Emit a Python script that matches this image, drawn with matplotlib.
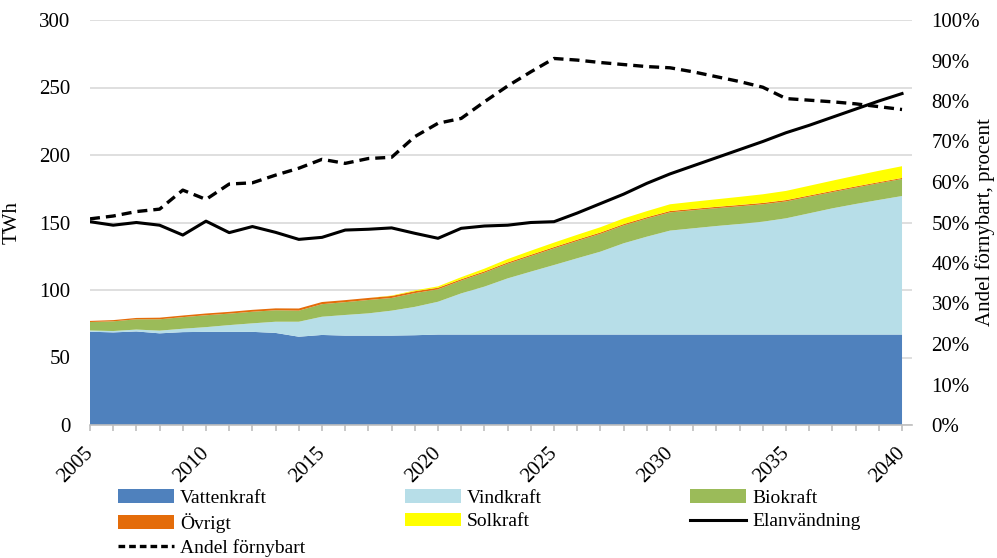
import numpy as np
import matplotlib.pyplot as plt
from matplotlib.patches import Patch
from matplotlib.lines import Line2D
from matplotlib.transforms import ScaledTranslation

plt.rcParams['font.family'] = ['Liberation Serif', 'DejaVu Serif']
plt.rcParams['font.size'] = 15

years = list(range(2005, 2041))

vattenkraft = [69.1, 68.6, 69.3, 67.9, 68.8, 69.0, 69.0, 69.0, 68.2, 65.4, 66.7, 66.2,
               66.2, 66.2, 66.5] + [67.0] * 21
vindkraft = [0.9, 1.0, 1.4, 2.0, 2.5, 3.5, 5.0, 6.3, 8.3, 11.1, 13.5, 15.3, 16.5, 18.5,
             21.0, 24.3, 30.5, 35.5, 41.6, 46.6, 51.5, 56.5, 61.4, 67.6, 72.5, 77.0,
             78.7, 80.4, 81.9, 83.6, 86.1, 89.8, 93.5, 96.7, 99.7, 102.6]
biokraft = [6.3, 7.2, 7.6, 8.4, 8.6, 8.8, 8.5, 8.6, 8.5, 8.2, 9.3, 9.5, 9.9, 9.4, 10.2,
            9.2, 9.5, 10.3, 10.8, 11.5, 12.3, 12.8, 13.2, 13.2, 13.4, 13.5, 13.4, 13.2,
            13.1, 12.9, 12.5, 12.3, 12.0, 12.1, 12.4, 12.6]
ovrigt = [0.8, 0.9, 1.0, 1.2, 1.2, 1.3, 1.3, 1.4, 1.4, 1.6, 1.6, 1.5, 1.5, 1.5, 1.4, 1.2,
          1.0, 1.0, 1.0, 1.0, 1.0, 1.0, 1.0, 1.0, 1.0, 1.0, 1.0, 1.0, 1.0, 1.0, 1.0, 0.9,
          0.9, 0.9, 0.8, 0.8]
solkraft = [0, 0, 0, 0, 0, 0, 0, 0, 0, 0, 0, 0, 0, 0.3, 0.6, 1.0, 1.5, 2.0, 2.5, 3.0,
            3.3, 3.6, 3.9, 4.2, 4.5, 5.0, 5.3, 5.6, 6.0, 6.4, 6.8, 7.2, 7.6, 8.0, 8.4, 8.7]
elanvandning = [150.6, 148.0, 150.0, 148.0, 140.7, 151.0, 142.5, 147.0, 142.7, 137.5,
                139.0, 144.4, 145.0, 146.0, 142.0, 138.3, 145.7, 147.4, 148.0, 150.0,
                150.6, 157.0, 164.0, 171.0, 179.0, 186.0, 192.0, 198.0, 204.0, 210.0,
                216.5, 222.0, 228.0, 234.0, 240.0, 245.5]
andel = [50.9, 51.6, 52.7, 53.3, 58.0, 55.7, 59.5, 59.8, 61.7, 63.4, 65.6, 64.6, 65.8,
         66.1, 71.2, 74.5, 75.7, 79.8, 83.7, 87.2, 90.5, 90.1, 89.5, 89.0, 88.5, 88.2,
         87.2, 86.0, 84.8, 83.4, 80.6, 80.2, 79.8, 79.3, 78.6, 77.9]

names = ['Vattenkraft', 'Vindkraft', 'Biokraft', 'Övrigt', 'Solkraft']
colors = ['#4F81BD', '#B7DEE8', '#9BBB59', '#E46C0A', '#FFFF00']

fig = plt.figure(figsize=(9.97, 5.58), dpi=100)
ax = fig.add_axes([90 / 997, 1 - 425 / 558, 822 / 997, 405 / 558])
ax2 = ax.twinx()

ax.stackplot(years, vattenkraft, vindkraft, biokraft, ovrigt, solkraft,
             colors=colors, linewidth=0, zorder=2)
ax.plot(years, elanvandning, color='black', lw=2.2, zorder=3)
ax2.plot(years, andel, color='black', lw=2.4, linestyle=(0, (3, 1.8)))

ax.set_xlim(2005, 2040.43)
ax.set_ylim(0, 300)
ax2.set_ylim(0, 100)
ax.set_yticks(range(0, 301, 50))
ax2.set_yticks(range(0, 101, 10))
ax2.set_yticklabels([f'{v}%' for v in range(0, 101, 10)])
ax.set_xticks(years)
ax.set_xticklabels([str(y) if y % 5 == 0 else '' for y in years],
                   rotation=45, ha='right', va='center', rotation_mode='anchor')
shift = ScaledTranslation(5 / 100, 0, fig.dpi_scale_trans)
for lbl in ax.get_xticklabels():
    lbl.set_transform(lbl.get_transform() + shift)

ax.grid(axis='y', color='#D9D9D9', lw=1.2, zorder=0)
ax.set_axisbelow(True)
for a in (ax, ax2):
    for s in ('left', 'right', 'top'):
        a.spines[s].set_visible(False)
ax.spines['bottom'].set_color('#BFBFBF')
ax.spines['bottom'].set_linewidth(1.2)
ax2.spines['bottom'].set_visible(False)
ax.tick_params(axis='x', length=4, color='#BFBFBF', width=1.2, pad=14)
ax.tick_params(axis='y', length=0, pad=14)
ax2.tick_params(axis='y', length=0, pad=14)
for lbl in ax2.get_yticklabels():
    lbl.set_horizontalalignment('left')

ax.set_ylabel('TWh')
ax.yaxis.set_label_coords(-0.083, 0.5)
ax2.set_ylabel('Andel förnybart, procent')
ax2.yaxis.set_label_coords(1.077, 0.5)

h = {n: Patch(facecolor=c, edgecolor='none') for n, c in zip(names, colors)}
h['Elanvändning'] = Line2D([], [], color='black', lw=2.2)
h['Andel förnybart'] = Line2D([], [], color='black', lw=2.4, linestyle=(0, (2, 1.2)))

cols = [(118, ['Vattenkraft', 'Övrigt', 'Andel förnybart']),
        (405, ['Vindkraft', 'Solkraft']),
        (690, ['Biokraft', 'Elanvändning'])]
for x0, labels in cols:
    fig.legend([h[l] for l in labels], labels, loc='upper left',
               bbox_to_anchor=(x0 / 997, 1 - 489 / 558), frameon=False,
               borderaxespad=0, borderpad=0, handlelength=2.9, handleheight=0.7,
               handletextpad=0.3, labelspacing=0.32, fontsize=14)

fig.savefig('out.png', dpi=100)
